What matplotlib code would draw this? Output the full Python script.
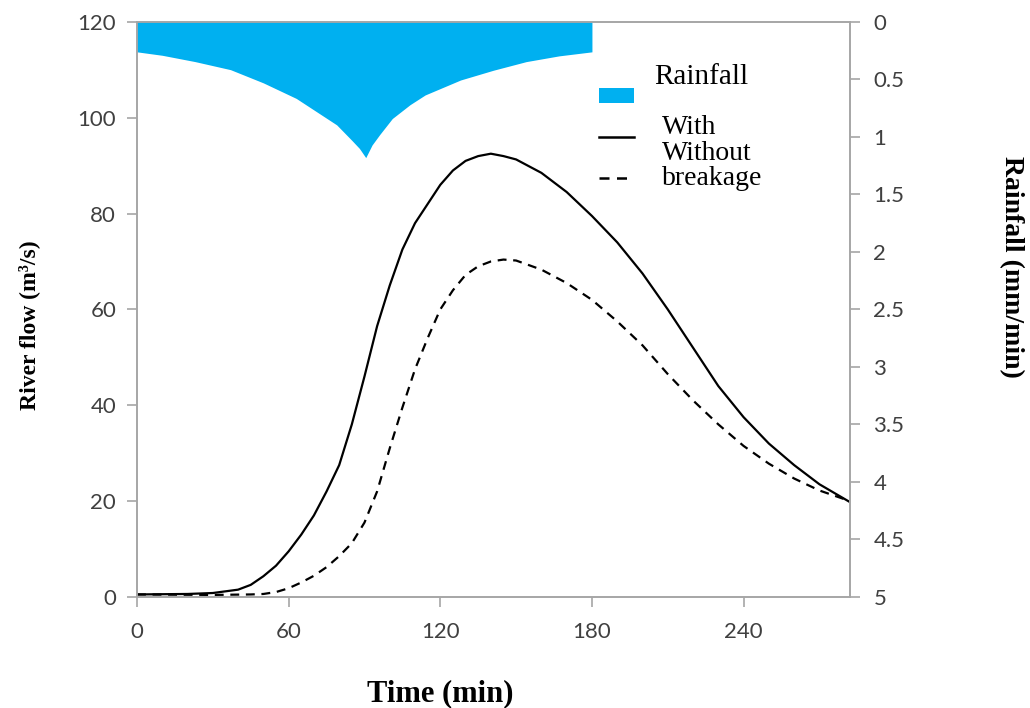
import matplotlib
matplotlib.use("Agg")
import matplotlib.pyplot as plt
from matplotlib.patches import Patch
from matplotlib.lines import Line2D

# ---------------------------------------------------------
# Data
# ---------------------------------------------------------
rain_t = [0, 10, 23, 37, 50, 63, 71, 79, 85, 88, 90.5, 93, 96, 101, 108, 114,
          128, 141, 154, 167, 180]
rain = [0.26, 0.29, 0.345, 0.415, 0.53, 0.665, 0.78, 0.895, 1.03, 1.1, 1.18,
        1.07, 0.98, 0.84, 0.72, 0.635, 0.505, 0.42, 0.345, 0.295, 0.26]

t_with = [0, 20, 30, 40, 45, 50, 55, 60, 65, 70, 75, 80, 85, 90, 95, 100, 105, 110,
          115, 120, 125, 130, 135, 140, 145, 150, 160, 170, 180, 190, 200, 210, 220,
          230, 240, 250, 260, 270, 282]
q_with = [0.5, 0.6, 0.8, 1.5, 2.5, 4.3, 6.5, 9.5, 13, 17, 22, 27.5, 36, 46, 56.5, 65,
          72.5, 78, 82, 86, 89, 91, 92, 92.5, 92, 91.3, 88.5, 84.5, 79.5, 74, 67.5,
          60, 52, 44, 37.5, 32, 27.5, 23.5, 19.8]

t_without = [0, 30, 45, 50, 55, 60, 65, 70, 75, 80, 85, 90, 95, 100, 105, 110, 115,
             120, 125, 130, 135, 140, 145, 150, 160, 170, 180, 190, 200, 210, 220,
             230, 240, 250, 260, 270, 282]
q_without = [0.5, 0.4, 0.5, 0.6, 1.0, 1.8, 3.0, 4.4, 6.2, 8.5, 11.2, 15.5, 22, 31,
             39.5, 47.5, 54, 60, 64, 67.2, 69, 70, 70.4, 70.2, 68.3, 65.5, 62, 57.5,
             52.5, 46.5, 41, 36, 31.5, 27.8, 24.7, 22.2, 20.0]

x_ticks = [0, 60, 120, 180, 240]
y_ticks = [0, 20, 40, 60, 80, 100, 120]
rain_ticks = [0, 0.5, 1, 1.5, 2, 2.5, 3, 3.5, 4, 4.5, 5]
rain_ticklabels = ["0", "0.5", "1", "1.5", "2", "2.5", "3", "3.5", "4", "4.5", "5"]

# ---------------------------------------------------------
# Figure
# ---------------------------------------------------------
spine_col = "#a6a6a6"
tick_col = "#404040"
serif = ["Liberation Serif", "DejaVu Serif"]

fig = plt.figure(figsize=(10.3, 7.08), dpi=100)
ax = fig.add_axes([0.133, 0.157, 0.692, 0.812])

ax.plot(t_with, q_with, color="black", lw=1.6)
ax.plot(t_without, q_without, color="black", lw=1.6, linestyle=(0, (4, 3)))

ax.set_xlim(0, 282)
ax.set_ylim(0, 120)
ax.set_xticks(x_ticks)
ax.set_yticks(y_ticks)

# rainfall on inverted secondary axis
ax2 = ax.twinx()
ax2.fill_between(rain_t, 0, rain, color="#00b0f0", lw=0)
ax2.set_ylim(5, 0)
ax2.set_yticks(rain_ticks)
ax2.set_yticklabels(rain_ticklabels)

for a in (ax, ax2):
    for s in a.spines.values():
        s.set_color(spine_col)
        s.set_linewidth(1.2)
    a.tick_params(colors=spine_col, labelcolor=tick_col, length=7, width=1.2,
                  labelsize=16)
    for lbl in a.get_xticklabels() + a.get_yticklabels():
        lbl.set_family(["Lato", "DejaVu Sans"])
ax.tick_params(axis="x", pad=11, labelsize=16)
ax.tick_params(axis="y", pad=8)
ax2.tick_params(axis="y", pad=10)

# axis labels
ax.set_xlabel("Time (min)", family=serif, fontweight="bold", fontsize=22)
ax.xaxis.set_label_coords(0.426, -0.144)
ax.set_ylabel("River flow (m³/s)", family=serif, fontweight="bold", fontsize=17)
ax.yaxis.set_label_coords(-0.136, 0.473)
ax2.set_ylabel("Rainfall (mm/min)", family=serif, fontweight="bold", fontsize=20,
               rotation=270)
ax2.yaxis.set_label_coords(1.245, 0.574)

# legend (handles only, text placed like the original)
handles = [Patch(facecolor="#00b0f0", edgecolor="none"),
           Line2D([], [], color="black", lw=1.8),
           Line2D([], [], color="black", lw=1.8, linestyle=(0, (4, 3)))]
leg = ax2.legend(handles, ["", "", ""], loc="upper left",
                 bbox_to_anchor=(0.634, 0.903), frameon=False,
                 handlelength=1.8, handleheight=0.8, labelspacing=1.15,
                 fontsize=14, borderpad=0, handletextpad=0)
ax2.text(0.725, 0.905, "Rainfall", transform=ax2.transAxes, family=serif,
         fontsize=21, va="center", ha="left")
ax2.text(0.737, 0.816, "With", transform=ax2.transAxes, family=serif,
         fontsize=20, va="center", ha="left")
ax2.text(0.737, 0.772, "Without", transform=ax2.transAxes, family=serif,
         fontsize=20, va="center", ha="left")
ax2.text(0.737, 0.728, "breakage", transform=ax2.transAxes, family=serif,
         fontsize=20, va="center", ha="left")

fig.savefig("out.png", dpi=100)
